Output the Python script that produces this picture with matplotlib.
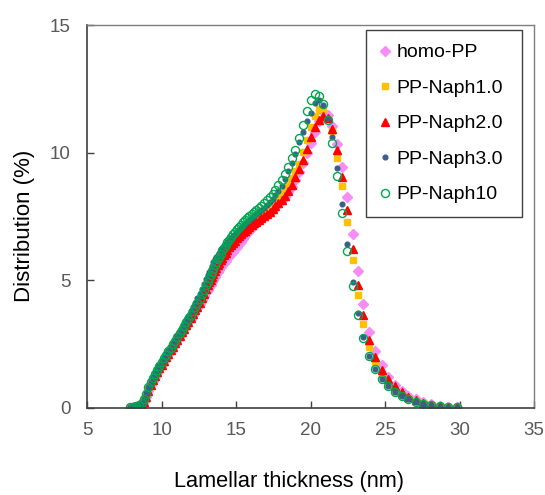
import matplotlib
matplotlib.use("Agg")
import matplotlib.pyplot as plt

plt.rcParams['font.family'] = ['Liberation Sans', 'DejaVu Sans']

# lamellar thickness (nm), shared by all samples
thickness = [7.9, 8.1, 8.3, 8.5, 8.65, 8.8, 8.95, 9.1, 9.25, 9.4,
             9.55, 9.7, 9.85, 10.0, 10.15, 10.3, 10.45, 10.6, 10.75, 10.9,
             11.05, 11.2, 11.35, 11.5, 11.65, 11.8, 11.95, 12.1, 12.25, 12.4,
             12.55, 12.7, 12.85, 13.0, 13.1, 13.19, 13.28, 13.37, 13.46, 13.56,
             13.66, 13.76, 13.86, 13.96, 14.07, 14.18, 14.29, 14.41, 14.53, 14.65,
             14.77, 14.9, 15.03, 15.16, 15.3, 15.44, 15.58, 15.73, 15.88, 16.04,
             16.2, 16.36, 16.53, 16.7, 16.88, 17.06, 17.25, 17.44, 17.64, 17.84,
             18.05, 18.27, 18.49, 18.72, 18.96, 19.23, 19.47, 19.74, 20.0, 20.3,
             20.57, 20.86, 21.15, 21.46, 21.8, 22.13, 22.47, 22.82, 23.19, 23.54,
             23.95, 24.35, 24.78, 25.2, 25.65, 26.1, 26.55, 27.05, 27.57, 28.1,
             28.65, 29.2, 29.8]

homo_pp = [0.01, 0.02, 0.04, 0.08, 0.13, 0.24, 0.43, 0.66, 0.88, 1.06,
           1.22, 1.38, 1.53, 1.68, 1.82, 1.96, 2.1, 2.24, 2.38, 2.52,
           2.66, 2.8, 2.94, 3.08, 3.22, 3.36, 3.5, 3.64, 3.78, 3.93,
           4.08, 4.23, 4.38, 4.53, 4.63, 4.73, 4.83, 4.93, 5.03, 5.13,
           5.23, 5.33, 5.42, 5.51, 5.6, 5.69, 5.77, 5.86, 5.95, 6.04,
           6.13, 6.22, 6.32, 6.42, 6.52, 6.62, 6.73, 6.85, 6.95, 7.06,
           7.16, 7.25, 7.34, 7.42, 7.5, 7.58, 7.67, 7.77, 7.88, 8.0,
           8.13, 8.28, 8.45, 8.67, 8.94, 9.26, 9.6, 9.98, 10.4, 10.81,
           11.25, 11.6, 11.5, 11.04, 10.35, 9.46, 8.27, 6.83, 5.36, 4.06,
           2.98, 2.22, 1.67, 1.21, 0.89, 0.65, 0.48, 0.33, 0.22, 0.14,
           0.09, 0.05, 0.03]

naph1 = [0.02, 0.03, 0.05, 0.1, 0.16, 0.3, 0.5, 0.75, 0.95, 1.13,
         1.29, 1.45, 1.6, 1.75, 1.89, 2.03, 2.17, 2.31, 2.45, 2.59,
         2.73, 2.87, 3.01, 3.15, 3.3, 3.44, 3.59, 3.74, 3.9, 4.06,
         4.22, 4.39, 4.57, 4.75, 4.87, 4.99, 5.11, 5.23, 5.35, 5.47,
         5.58, 5.69, 5.79, 5.89, 6.02, 6.12, 6.22, 6.32, 6.42, 6.5,
         6.58, 6.66, 6.74, 6.82, 6.9, 6.98, 7.05, 7.12, 7.19, 7.26,
         7.34, 7.42, 7.5, 7.58, 7.67, 7.76, 7.86, 7.97, 8.09, 8.22,
         8.37, 8.55, 8.77, 9.02, 9.28, 9.57, 10.02, 10.51, 11.0, 11.45,
         11.72, 11.72, 11.33, 10.84, 9.8, 8.68, 7.28, 5.81, 4.41, 3.28,
         2.39, 1.79, 1.31, 0.93, 0.68, 0.5, 0.37, 0.26, 0.18, 0.12,
         0.08, 0.05, 0.03]

naph2 = [0.01, 0.02, 0.04, 0.08, 0.13, 0.24, 0.44, 0.68, 0.9, 1.08,
         1.24, 1.4, 1.55, 1.7, 1.84, 1.98, 2.12, 2.26, 2.4, 2.54,
         2.68, 2.82, 2.96, 3.1, 3.24, 3.38, 3.52, 3.67, 3.82, 3.97,
         4.13, 4.3, 4.48, 4.66, 4.8, 4.92, 5.03, 5.14, 5.25, 5.37,
         5.48, 5.59, 5.69, 5.79, 5.89, 5.99, 6.09, 6.19, 6.29, 6.38,
         6.47, 6.56, 6.65, 6.73, 6.8, 6.88, 6.95, 7.02, 7.09, 7.16,
         7.23, 7.3, 7.37, 7.44, 7.52, 7.6, 7.69, 7.79, 7.9, 8.02,
         8.16, 8.32, 8.5, 8.74, 9.04, 9.37, 9.73, 10.16, 10.6, 11.02,
         11.3, 11.44, 11.36, 10.95, 10.12, 9.07, 7.74, 6.24, 4.8, 3.66,
         2.68, 2.0, 1.5, 1.12, 0.85, 0.63, 0.43, 0.3, 0.2, 0.13,
         0.09, 0.05, 0.03]

naph3 = [0.02, 0.04, 0.07, 0.12, 0.2, 0.36, 0.58, 0.83, 1.03, 1.21,
         1.38, 1.55, 1.7, 1.85, 2.0, 2.14, 2.28, 2.42, 2.57, 2.71,
         2.86, 3.01, 3.16, 3.31, 3.46, 3.62, 3.78, 3.95, 4.12, 4.3,
         4.48, 4.67, 4.86, 5.06, 5.19, 5.32, 5.45, 5.58, 5.7, 5.82,
         5.92, 6.01, 6.09, 6.17, 6.25, 6.33, 6.41, 6.5, 6.59, 6.67,
         6.75, 6.83, 6.91, 6.99, 7.06, 7.13, 7.2, 7.27, 7.35, 7.43,
         7.51, 7.59, 7.67, 7.76, 7.85, 7.95, 8.06, 8.19, 8.33, 8.5,
         8.7, 8.98, 9.3, 9.6, 9.96, 10.42, 10.8, 11.24, 11.57, 11.95,
         12.08, 11.87, 11.38, 10.61, 9.41, 7.98, 6.44, 4.93, 3.7, 2.76,
         2.05, 1.54, 1.14, 0.86, 0.64, 0.47, 0.35, 0.25, 0.17, 0.12,
         0.08, 0.05, 0.03]

naph10 = [0.02, 0.04, 0.07, 0.12, 0.2, 0.35, 0.55, 0.8, 1.0, 1.17,
          1.33, 1.5, 1.65, 1.8, 1.94, 2.08, 2.22, 2.36, 2.5, 2.64,
          2.78, 2.93, 3.07, 3.21, 3.35, 3.5, 3.64, 3.79, 3.95, 4.11,
          4.28, 4.45, 4.63, 4.82, 4.95, 5.08, 5.2, 5.33, 5.46, 5.59,
          5.71, 5.82, 5.93, 6.05, 6.18, 6.28, 6.38, 6.49, 6.6, 6.7,
          6.8, 6.9, 7.0, 7.09, 7.18, 7.27, 7.35, 7.43, 7.51, 7.6,
          7.68, 7.76, 7.84, 7.93, 8.03, 8.13, 8.25, 8.4, 8.56, 8.74,
          8.94, 9.18, 9.46, 9.78, 10.12, 10.59, 11.1, 11.64, 12.06, 12.31,
          12.22, 11.92, 11.3, 10.39, 9.1, 7.65, 6.15, 4.78, 3.66, 2.74,
          2.04, 1.53, 1.13, 0.85, 0.63, 0.46, 0.35, 0.25, 0.17, 0.12,
          0.08, 0.04, 0.03]

fig = plt.figure(figsize=(5.45, 4.95), dpi=100)
ax = fig.add_axes([0.16, 0.176, 0.82, 0.773])

ax.plot(thickness, homo_pp, 'D', ms=5, color='#F68CF6', mec='#F68CF6', label='homo-PP')
ax.plot(thickness, naph1, 's', ms=4.8, color='#FFC000', mec='#FFC000', label='PP-Naph1.0')
ax.plot(thickness, naph2, '^', ms=6, color='#FF0000', mec='#FF0000', label='PP-Naph2.0')
ax.plot(thickness, naph3, 'o', ms=3.4, color='#3B5E8C', mec='#3B5E8C', label='PP-Naph3.0')
ax.plot(thickness, naph10, 'o', ms=5.8, mfc='none', mec='#00A651', mew=1.0, label='PP-Naph10')

ax.set_xlim(5, 35)
ax.set_ylim(0, 15)
ax.set_xticks([5, 10, 15, 20, 25, 30, 35])
ax.set_yticks([0, 5, 10, 15])
ax.tick_params(direction='in', length=5, width=1, colors='#404040',
               labelcolor='#595959', labelsize=13.5)
ax.tick_params(axis='x', pad=10)
ax.tick_params(axis='y', pad=12)
for side in ['left', 'bottom']:
    ax.spines[side].set_color('#404040')
    ax.spines[side].set_linewidth(1.2)
for side in ['top', 'right']:
    ax.spines[side].set_color('#7F7F7F')
    ax.spines[side].set_linewidth(1.0)

ax.set_xlabel('Lamellar thickness (nm)', fontsize=15.7)
ax.set_ylabel('Distribution (%)', fontsize=16)
ax.xaxis.set_label_coords(0.452, -0.165)
ax.yaxis.set_label_coords(-0.116, 0.475)

# legend box stretched to the frame drawn in the original
leg = ax.legend(loc='upper left', bbox_to_anchor=(0.624, 0.501, 0.349, 0.486),
                mode='expand', fontsize=14, labelspacing=0.92, handlelength=0.55,
                handletextpad=0.3, borderpad=0.7, fancybox=False, framealpha=1,
                borderaxespad=0)
leg.get_frame().set_edgecolor('#404040')
leg.get_frame().set_linewidth(1.0)

fig.savefig('out.png', dpi=100)
